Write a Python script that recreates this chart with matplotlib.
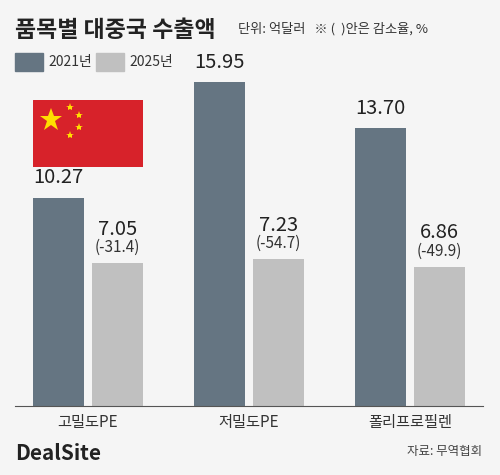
import matplotlib.pyplot as plt
import matplotlib.patches as patches
import numpy as np

plt.rcParams['font.family'] = ['Noto Sans CJK KR', 'DejaVu Sans']

categories = ['고밀도PE', '저밀도PE', '폴리프로필렌']
v2021 = [10.27, 15.95, 13.70]
v2025 = [7.05, 7.23, 6.86]
change = [-31.4, -54.7, -49.9]

bg = '#f5f5f5'
dark = '#657582'
light = '#c0c0c0'

fig = plt.figure(figsize=(5, 4.75), dpi=100, facecolor=bg)
ax = fig.add_axes([0.03, 0.145, 0.936, 0.682])
ax.set_facecolor(bg)

x = np.arange(len(categories))
w = 0.317
off = w / 2 + 0.025
ax.bar(x - off, v2021, w, color=dark)
ax.bar(x + off, v2025, w, color=light)
for i in range(len(x)):
    ax.text(x[i] - off, v2021[i] + 0.45, f'{v2021[i]:.2f}', ha='center', va='bottom',
            fontsize=14.5, color='#222222')
    ax.text(x[i] + off, v2025[i] + 1.15, f'{v2025[i]:.2f}', ha='center', va='bottom',
            fontsize=14.5, color='#222222')
    ax.text(x[i] + off, v2025[i] + 0.35, f'({change[i]})', ha='center', va='bottom',
            fontsize=11, color='#333333')

ax.set_xlim(-0.453, 2.453)
ax.set_ylim(0, 15.95)
for s in ['top', 'right', 'left']:
    ax.spines[s].set_visible(False)
ax.spines['bottom'].set_color('#555555')
ax.set_yticks([])
ax.set_xticks(x)
ax.set_xticklabels(categories, fontsize=11, color='#333333')
ax.tick_params(axis='x', length=0, pad=6)

# flag
fa = fig.add_axes([33 / 500, 1 - 167 / 475, 110 / 500, 67 / 475])
fa.set_xlim(0, 30)
fa.set_ylim(0, 20)
fa.axis('off')
fa.add_patch(patches.Rectangle((0, 0), 30, 20, color='#d7222a'))
fa.plot([5], [14], marker='*', color='#ffde00', markersize=17, markeredgewidth=0)
for sx, sy in [(10, 18), (12.5, 15.5), (12.5, 12), (10, 9.5)]:
    fa.plot([sx], [sy], marker='*', color='#ffde00', markersize=6, markeredgewidth=0)

fig.text(0.03, 0.935, '품목별 대중국 수출액', fontsize=16.5, fontweight='bold', color='#222222', va='center')
fig.text(0.475, 0.94, '단위: 억달러   ※ (  )안은 감소율, %', fontsize=9.5, color='#333333', va='center')
fig.patches.append(patches.Rectangle((15 / 500, 1 - 71 / 475), 28 / 500, 18 / 475,
                                     color=dark, transform=fig.transFigure))
fig.text(48 / 500, 1 - 62 / 475, '2021년', fontsize=10, color='#333333', va='center')
fig.patches.append(patches.Rectangle((96 / 500, 1 - 71 / 475), 28 / 500, 18 / 475,
                                     color=light, transform=fig.transFigure))
fig.text(129 / 500, 1 - 62 / 475, '2025년', fontsize=10, color='#333333', va='center')

fig.text(0.03, 1 - 453 / 475, 'DealSite', fontsize=15, fontweight='bold', color='#222222', va='center')
fig.text(0.965, 1 - 451 / 475, '자료: 무역협회', fontsize=9, color='#444444', va='center', ha='right')

fig.savefig('out.png', dpi=100, facecolor=bg)
